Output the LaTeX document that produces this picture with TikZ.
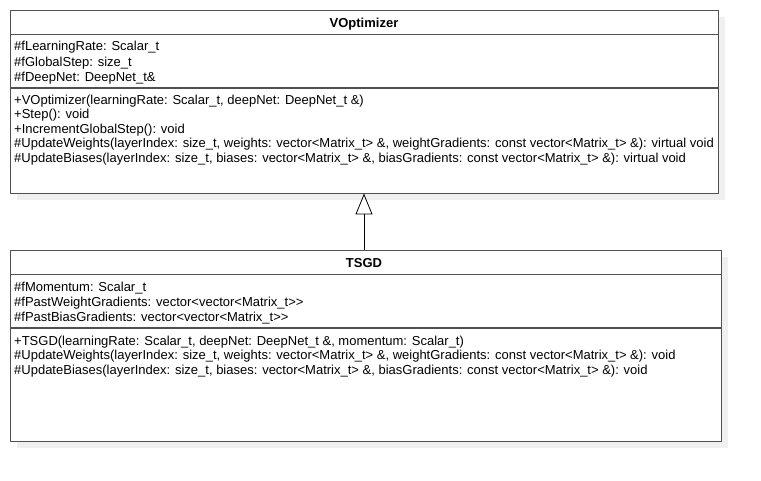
\documentclass[tikz,border=0pt]{standalone}
\usepackage{fontspec}
\setmainfont{Liberation Sans}
\usetikzlibrary{arrows.meta}
\definecolor{umlline}{RGB}{80,80,80}
\definecolor{umlshadow}{RGB}{240,240,240}
\begin{document}
\begin{tikzpicture}[x=1pt,y=-1pt,
  classbox/.style={draw=umlline,line width=1.2pt,fill=white,inner sep=0pt,anchor=north west},
  shadowbox/.style={fill=umlshadow,draw=none},
  sepline/.style={draw=umlline,line width=1.2pt},
  member/.style={anchor=base west,inner sep=0pt,font=\fontsize{13}{14}\selectfont},
  title/.style={anchor=base,inner sep=0pt,font=\fontsize{13}{14}\selectfont\bfseries},
  inherit/.style={draw=black,line width=0.6pt,-{Triangle[open,width=17pt,length=21pt,line width=0.8pt]}}
]
\useasboundingbox (0,0) rectangle (761,481);
% shadows
\fill[shadowbox] (17,17) rectangle (725,200);
\fill[shadowbox] (17,257) rectangle (728,448);
% VOptimizer
\node[classbox,minimum width=708pt,minimum height=183pt] (vopt) at (10,10) {};
\draw[sepline] (10,34.5) -- (718,34.5);
\draw[sepline] (10,88) -- (718,88);
\node[title] (vtitle) at (364,27.5) {VOptimizer};
\node[member] (va1) at (14,51) {\#fLearningRate: Scalar\_t};
\node[member] (va2) at (14,66.5) {\#fGlobalStep: size\_t};
\node[member] (va3) at (14,81.5) {\#fDeepNet: DeepNet\_t\&};
\node[member] (vm1) at (14,104.5) {+VOptimizer(learningRate: Scalar\_t, deepNet: DeepNet\_t \&)};
\node[member] (vm2) at (14,119) {+Step(): void};
\node[member] (vm3) at (14,133.5) {+IncrementGlobalStep(): void};
\node[member] (vm4) at (14,148) {\#UpdateWeights(layerIndex: size\_t, weights: vector<Matrix\_t> \&, weightGradients: const vector<Matrix\_t> \&): virtual void};
\node[member] (vm5) at (14,162.5) {\#UpdateBiases(layerIndex: size\_t, biases: vector<Matrix\_t> \&, biasGradients: const vector<Matrix\_t> \&): virtual void};
% TSGD
\node[classbox,minimum width=711pt,minimum height=191pt] (tsgd) at (10,250) {};
\draw[sepline] (10,274.5) -- (721,274.5);
\draw[sepline] (10,328) -- (721,328);
\node[title] (ttitle) at (364,267.5) {TSGD};
\node[member] (ta1) at (14,291.5) {\#fMomentum: Scalar\_t};
\node[member] (ta2) at (14,307) {\#fPastWeightGradients: vector<vector<Matrix\_t>{}>};
\node[member] (ta3) at (14,321.5) {\#fPastBiasGradients: vector<vector<Matrix\_t>{}>};
\node[member] (tm1) at (14,345) {+TSGD(learningRate: Scalar\_t, deepNet: DeepNet\_t \&, momentum: Scalar\_t)};
\node[member] (tm2) at (14,359.5) {\#UpdateWeights(layerIndex: size\_t, weights: vector<Matrix\_t> \&, weightGradients: const vector<Matrix\_t> \&): void};
\node[member] (tm3) at (14,374) {\#UpdateBiases(layerIndex: size\_t, biases: vector<Matrix\_t> \&, biasGradients: const vector<Matrix\_t> \&): void};
% inheritance
\coordinate (tsgdtop) at (364,250);
\coordinate (voptbot) at (364,193.5);
\draw[inherit] (tsgdtop) -- (voptbot);
\end{tikzpicture}
\end{document}
